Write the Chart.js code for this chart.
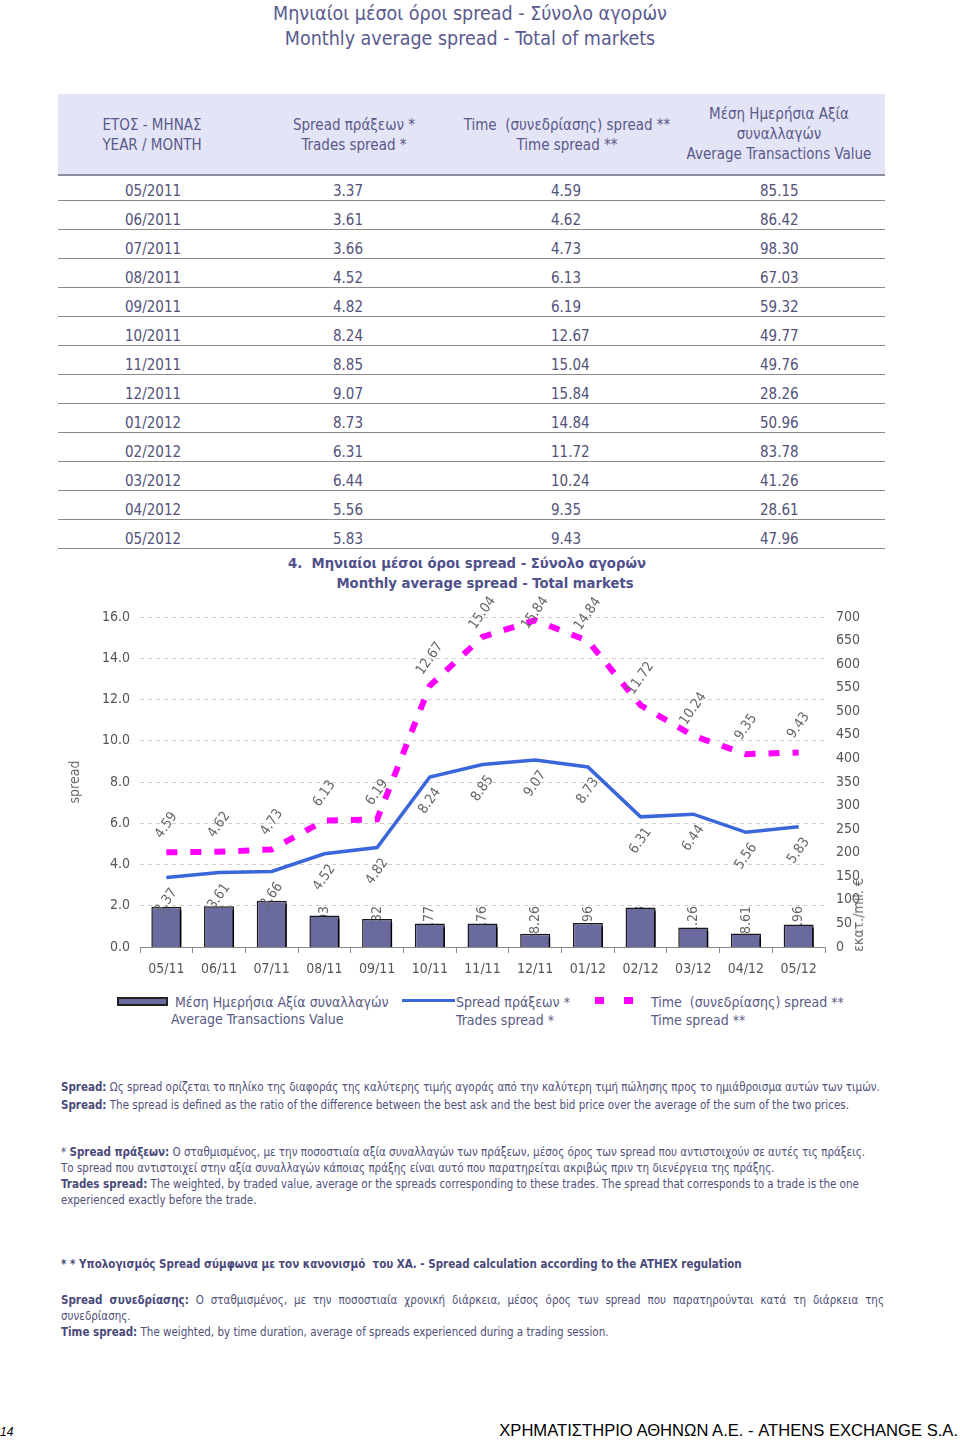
<!DOCTYPE html>
<html>
<head>
<meta charset="utf-8">
<script src="https://cdn.jsdelivr.net/npm/chart.js@4"></script>
<style>
  body { margin: 0; width: 960px; height: 1440px; position: relative; background: #fff; overflow: hidden;
         font-family: "DejaVu Sans Condensed", "DejaVu Sans", sans-serif; color: #55557f; }
  .abs { position: absolute; white-space: nowrap; }
  .hdr { position: absolute; left: 58px; top: 94px; width: 827px; height: 80px; background: #e4e4f7; border-bottom: 2px solid #8c8c9c; }
  .hcell { position: absolute; text-align: center; font-size: 15px; line-height: 20px; color: #5a5a8a; }
  .row { position: absolute; left: 58px; width: 827px; height: 28px; border-bottom: 1px solid #8a8a8a; }
  .row span { position: absolute; top: 10px; line-height: 18px; font-size: 15px; color: #52527a; }
  .note { position: absolute; left: 61px; font-size: 11.5px; color: #50507a; }
  .note b { color: #4a4a7a; }
</style>
</head>
<body>
<div class="abs" style="left:0;top:1px;width:940px;text-align:center;font-size:19.5px;line-height:25px;color:#5a5a8f">
  Μηνιαίοι μέσοι όροι spread - Σύνολο αγορών<br>Monthly average spread - Total of markets
</div>

<div class="hdr"></div>
<div class="hcell" style="left:52px;width:200px;top:115px">ΕΤΟΣ - ΜΗΝΑΣ<br>YEAR / MONTH</div>
<div class="hcell" style="left:254px;width:200px;top:115px">Spread πράξεων *<br>Trades spread *</div>
<div class="hcell" style="left:447px;width:240px;top:115px">Time &nbsp;(συνεδρίασης) spread **<br>Time spread **</div>
<div class="hcell" style="left:669px;width:220px;top:104px">Μέση Ημερήσια Αξία<br>συναλλαγών<br>Average Transactions Value</div>
<div id="rows"></div>

<div class="abs" style="left:0;top:553px;width:934px;text-align:center;font-size:14.7px;line-height:19px;font-weight:bold;color:#50508a">4. &nbsp;Μηνιαίοι μέσοι όροι spread - Σύνολο αγορών</div>
<div class="abs" style="left:100px;top:573px;width:770px;text-align:center;font-size:14.7px;line-height:19px;font-weight:bold;color:#50508a">Monthly average spread - Total markets</div>

<div style="position:absolute;left:0;top:595px;width:960px;height:395px">
  <canvas id="chart"></canvas>
</div>
<div class="abs" style="left:858px;top:915px;font-size:14px;color:#666;transform:translate(-50%,-50%) rotate(-90deg)">εκατ./mil. €</div>

<!-- legend -->
<div class="abs" style="left:117px;top:997px;width:47px;height:5px;background:#6a6a9e;border:2px solid #222"></div>
<div class="abs" style="left:175px;top:993px;font-size:14px;line-height:18px;color:#5a5a85">Μέση Ημερήσια Αξία συναλλαγών</div>
<div class="abs" style="left:171px;top:1010px;font-size:14px;line-height:18px;color:#5a5a85">Average Transactions Value</div>
<div class="abs" style="left:402px;top:999px;width:53px;height:3px;background:#3a66db"></div>
<div class="abs" style="left:456px;top:993px;font-size:14px;line-height:18px;color:#5a5a85">Spread πράξεων *<br>Trades spread *</div>
<div class="abs" style="left:595px;top:997px;width:9px;height:7px;background:#ff00ff"></div>
<div class="abs" style="left:624px;top:997px;width:9px;height:7px;background:#ff00ff"></div>
<div class="abs" style="left:651px;top:993px;font-size:14px;line-height:18px;color:#5a5a85">Time &nbsp;(συνεδρίασης) spread **<br>Time spread **</div>

<!-- notes -->
<div class="note" style="top:1078px;line-height:18px;white-space:nowrap">
  <b>Spread:</b> Ως spread ορίζεται το πηλίκο της διαφοράς της καλύτερης τιμής αγοράς από την καλύτερη τιμή πώλησης προς το ημιάθροισμα αυτών των τιμών.<br>
  <b>Spread:</b> The spread is defined as the ratio of the difference between the best ask and the best bid price over the average of the sum of the two prices.
</div>
<div class="note" style="top:1144px;line-height:16px;white-space:nowrap">
  * <b>Spread πράξεων:</b> Ο σταθμισμένος, με την ποσοστιαία αξία συναλλαγών των πράξεων, μέσος όρος των spread που αντιστοιχούν σε αυτές τις πράξεις.<br>
  Το spread που αντιστοιχεί στην αξία συναλλαγών κάποιας πράξης είναι αυτό που παρατηρείται ακριβώς πριν τη διενέργεια της πράξης.<br>
  <b>Trades spread:</b> The weighted, by traded value, average or the spreads corresponding to these trades. The spread that corresponds to a trade is the one<br>
  experienced exactly before the trade.
</div>
<div class="note" style="top:1256px;line-height:16px;white-space:nowrap;font-weight:bold;color:#4a4a7a">
  * * Υπολογισμός Spread σύμφωνα με τον κανονισμό &nbsp;του ΧΑ. - Spread calculation according to the ATHEX regulation
</div>
<div class="note" style="top:1292px;line-height:16px;width:823px;text-align:justify">
  <b>Spread συνεδρίασης:</b> Ο σταθμισμένος, με την ποσοστιαία χρονική διάρκεια, μέσος όρος των spread που παρατηρούνται κατά τη διάρκεια της συνεδρίασης.<br>
  <b>Time spread:</b> The weighted, by time duration, average of spreads experienced during a trading session.
</div>

<div class="abs" style="left:0;top:1425px;font-family:'Liberation Sans',sans-serif;font-style:italic;font-size:12px;color:#000">14</div>
<div class="abs" style="right:2px;top:1421px;font-family:'Liberation Sans',sans-serif;font-size:16.6px;color:#000">ΧΡΗΜΑΤΙΣΤΗΡΙΟ ΑΘΗΝΩΝ Α.Ε. - ATHENS EXCHANGE S.A.</div>

<script>
// Πίνακας / δεδομένα
const months = ['05/2011', '06/2011', '07/2011', '08/2011', '09/2011', '10/2011', '11/2011', '12/2011', '01/2012', '02/2012', '03/2012', '04/2012', '05/2012'];
const monthLabels = ['05/11', '06/11', '07/11', '08/11', '09/11', '10/11', '11/11', '12/11', '01/12', '02/12', '03/12', '04/12', '05/12'];
const tradesSpread = [3.37, 3.61, 3.66, 4.52, 4.82, 8.24, 8.85, 9.07, 8.73, 6.31, 6.44, 5.56, 5.83];
const timeSpread = [4.59, 4.62, 4.73, 6.13, 6.19, 12.67, 15.04, 15.84, 14.84, 11.72, 10.24, 9.35, 9.43];
const avgValue = [85.15, 86.42, 98.30, 67.03, 59.32, 49.77, 49.76, 28.26, 50.96, 83.78, 41.26, 28.61, 47.96];

// lignes du tableau
const rows = document.getElementById('rows');
months.forEach((m, i) => {
  const r = document.createElement('div');
  r.className = 'row';
  r.style.top = (172 + i * 29) + 'px';
  const cells = [m, tradesSpread[i].toFixed(2), timeSpread[i].toFixed(2), avgValue[i].toFixed(2)];
  const lefts = [67, 275, 493, 702];
  cells.forEach((c, j) => {
    const s = document.createElement('span');
    s.style.left = lefts[j] + 'px';
    s.textContent = c;
    r.appendChild(s);
  });
  rows.appendChild(r);
});

const FONT = '"DejaVu Sans Condensed", "DejaVu Sans", sans-serif';

function drawRotated(ctx, text, x, y, angle, align) {
  ctx.save();
  ctx.translate(x, y);
  ctx.rotate(angle);
  ctx.textAlign = align;
  ctx.textBaseline = 'middle';
  ctx.fillText(text, 0, 0);
  ctx.restore();
}

// étiquettes de valeurs + ombre des barres
const valueLabels = {
  id: 'valueLabels',
  beforeDatasetsDraw(chart) {
    const ctx = chart.ctx;
    const bottom = chart.chartArea.bottom;
    ctx.save();
    ctx.font = '14px ' + FONT;
    ctx.fillStyle = '#666';
    chart.getDatasetMeta(0).data.forEach((bar, i) => {
      drawRotated(ctx, avgValue[i].toFixed(2), bar.x, bottom - 5, -Math.PI / 2, 'left');
    });
    ctx.restore();
  },
  beforeDatasetDraw(chart, args) {
    if (args.index === 0) {
      chart.ctx.save();
      chart.ctx.shadowColor = '#000';
      chart.ctx.shadowOffsetX = 4;
      chart.ctx.shadowOffsetY = 3;
      chart.ctx.shadowBlur = 0;
    }
  },
  afterDatasetDraw(chart, args) {
    if (args.index === 0) chart.ctx.restore();
  },
  afterDatasetsDraw(chart) {
    const ctx = chart.ctx;
    const top = chart.chartArea.top;
    ctx.save();
    ctx.font = '14px ' + FONT;
    ctx.fillStyle = '#666';
    const ang = -55 * Math.PI / 180;
    chart.getDatasetMeta(1).data.forEach((p, i) => {
      drawRotated(ctx, tradesSpread[i].toFixed(2), p.x, p.y + 24, ang, 'center');
    });
    chart.getDatasetMeta(2).data.forEach((p, i) => {
      drawRotated(ctx, timeSpread[i].toFixed(2), p.x, Math.max(p.y - 27, top - 4), ang, 'center');
    });
    ctx.restore();
  }
};

new Chart(document.getElementById('chart'), {
  data: {
    labels: monthLabels,
    datasets: [{
      type: 'bar',
      label: 'Μέση Ημερήσια Αξία συναλλαγών',
      data: avgValue,
      yAxisID: 'y1',
      backgroundColor: '#6a6a9e',
      borderColor: '#1a1a1a',
      borderWidth: 1.5,
      barPercentage: 0.57,
      categoryPercentage: 1,
      order: 3
    }, {
      type: 'line',
      label: 'Spread πράξεων *',
      data: tradesSpread,
      yAxisID: 'y',
      borderColor: '#3a66db',
      borderWidth: 3.5,
      pointRadius: 0,
      tension: 0,
      order: 2
    }, {
      type: 'line',
      label: 'Time (συνεδρίασης) spread **',
      data: timeSpread,
      yAxisID: 'y',
      borderColor: '#ff00ff',
      borderWidth: 6,
      borderDash: [11, 13],
      pointRadius: 0,
      tension: 0,
      order: 1
    }]
  },
  options: {
    responsive: true,
    maintainAspectRatio: false,
    animation: false,
    layout: { padding: { left: 63, right: 85, top: 22, bottom: 3 } },
    plugins: { legend: { display: false }, tooltip: { enabled: false } },
    scales: {
      x: {
        offset: true,
        grid: { display: true, drawOnChartArea: false, drawTicks: true, tickLength: 6, color: '#888', offset: true },
        border: { display: true, color: '#888' },
        ticks: { color: '#555', font: { family: FONT, size: 14 }, padding: 8, maxRotation: 0 },
        afterFit(s) { s.height = 40; }
      },
      y: {
        position: 'left',
        min: 0, max: 16,
        ticks: { stepSize: 2, color: '#555', font: { family: FONT, size: 14 }, padding: 10,
                 callback: v => v.toFixed(1) },
        grid: { color: '#cfcfcf', lineWidth: 1, drawTicks: false },
        border: { display: false, dash: [4, 4] },
        title: { display: true, text: 'spread', color: '#666', font: { family: FONT, size: 14 } },
        afterFit(s) { s.width = 77; }
      },
      y1: {
        position: 'right',
        min: 0, max: 700,
        ticks: { stepSize: 50, color: '#555', font: { family: FONT, size: 14 }, padding: 3 },
        grid: { display: false },
        border: { display: false },
        afterFit(s) { s.width = 50; }
      }
    }
  },
  plugins: [valueLabels]
});
</script>
</body>
</html>
